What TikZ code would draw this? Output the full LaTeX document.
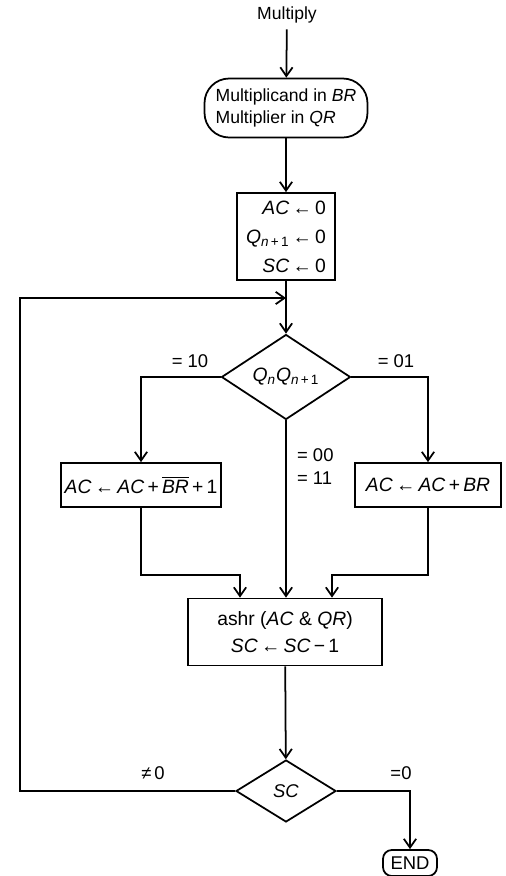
\documentclass[tikz,border=0pt]{standalone}
\usepackage{fontspec}
\setmainfont{Liberation Sans}
\usetikzlibrary{shapes.geometric,arrows.meta}
\begin{document}
\begin{tikzpicture}[x=0.02cm,y=-0.02cm,
  every node/.style={font=\fontsize{10.5}{13}\selectfont},
  line/.style={line width=1pt},
  arr/.style={line width=1pt,-{Straight Barb[length=5pt,width=7pt,line width=1pt]}},
  procbox/.style={draw,line width=1pt,inner sep=2pt},
  decide/.style={draw,diamond,line width=1pt,inner sep=0pt},
  lbl/.style={inner sep=1pt}]
\useasboundingbox (0,0) rectangle (506,876);
\node[font=\fontsize{10}{12}\selectfont] (start) at (287,15) {Multiply};
\node[procbox,rounded corners=14pt,minimum width=3.26cm,minimum height=1.18cm,align=left,
  font=\fontsize{10}{13}\selectfont] (load) at (286,108)
  {Multiplicand in \textit{BR}\\Multiplier in \textit{QR}};
\node[procbox,minimum width=1.96cm,minimum height=1.74cm,align=right,
  font=\fontsize{11}{16.5}\selectfont] (init) at (286,236.5)
  {\textit{AC}\,←\,0\\\textit{Q}\textsubscript{\textit{n}\,+\,1}\,←\,0\\\textit{SC}\,←\,0};
\node[decide,minimum width=2.58cm,minimum height=1.7cm,font=\fontsize{11}{13}\selectfont] (d1) at (286,377)
  {\textit{Q}\textsubscript{\textit{n}}\textit{Q}\textsubscript{\textit{n}\,+\,1}};
\node[procbox,minimum width=3.12cm,minimum height=0.88cm,font=\fontsize{11}{13}\selectfont] (lbox) at (141,485)
  {\textit{AC}\,←\,\textit{AC}\,+\,$\overline{\hbox{\textit{BR}}}$\,+\,1};
\node[procbox,minimum width=2.92cm,minimum height=0.88cm,font=\fontsize{11}{13}\selectfont] (rbox) at (428,485)
  {\textit{AC}\,←\,\textit{AC}\,+\,\textit{BR}};
\node[procbox,minimum width=3.88cm,minimum height=1.34cm,align=center,
  font=\fontsize{11}{15}\selectfont] (ash) at (285,632)
  {ashr (\textit{AC} \& \textit{QR})\\\textit{SC}\,←\,\textit{SC}\,−\,1};
\node[decide,minimum width=2cm,minimum height=1.24cm] (sc) at (286,791) {\textit{SC}};
\node[procbox,rounded corners=5pt,minimum width=1.08cm,minimum height=0.52cm] (endb) at (410,863) {END};
% labels
\node[lbl] (l10) at (190,361) {= 10};
\node[lbl] (l01) at (396,361) {= 01};
\node[lbl,anchor=west] (l00) at (295,455) {= 00};
\node[lbl,anchor=west] (l11) at (295,478) {= 11};
\node[lbl] (lne) at (153,773) {≠\,0};
\node[lbl] (leq) at (401,773) {=0};
% coordinates
\coordinate (loopL) at (20,298);
\coordinate (join) at (286,298);
\coordinate (mL) at (240,575);
\coordinate (mR) at (332,575);
% connectors
\draw[arr] (start) -- (load);
\draw[arr] (load) -- (init);
\draw[arr] (init) -- (d1);
\draw[arr] (d1.west) -| (lbox.north);
\draw[arr] (d1.east) -| (rbox.north);
\draw[arr] (d1.south) -- (d1.south |- ash.north);
\draw[arr] (lbox.south) |- (mL) -- (mL |- ash.north);
\draw[arr] (rbox.south) |- (mR) -- (mR |- ash.north);
\draw[arr] (ash) -- (sc);
\draw[arr] (sc.east) -| (endb.north);
\draw[arr] (sc.west) -- (sc.west -| loopL) -- (loopL) -- (join);
\end{tikzpicture}
\end{document}
